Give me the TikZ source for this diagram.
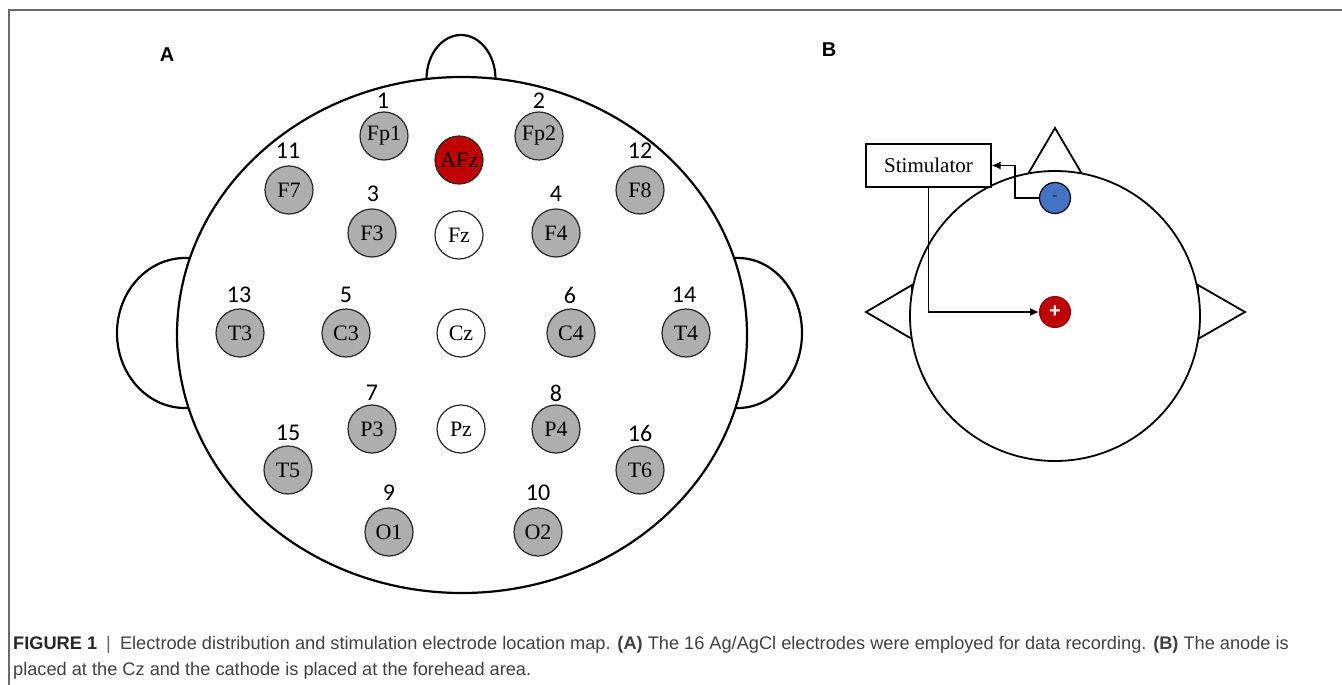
\documentclass[tikz,border=0pt]{standalone}
\usepackage{fontspec}
\setmainfont{Liberation Serif}
\newfontfamily\numfont{Carlito}
\newfontfamily\sansfam{Liberation Sans}
\usetikzlibrary{arrows.meta}
\definecolor{elgray}{HTML}{AEAEAE}
\definecolor{afzred}{HTML}{C00000}
\definecolor{cathblue}{HTML}{4472C4}
\definecolor{framegray}{HTML}{6A6A6A}
\definecolor{captext}{HTML}{404040}
\begin{document}
\begin{tikzpicture}[x=1pt,y=-1pt,
  elec/.style={circle, draw=black!85, line width=1.2pt, minimum size=48pt, inner sep=0pt, font=\fontsize{22}{22}\selectfont},
  grayel/.style={elec, fill=elgray},
  whiteel/.style={elec, fill=white},
  redel/.style={elec, fill=afzred},
  num/.style={inner sep=0pt, font=\numfont\fontsize{24}{24}\selectfont},
  headline/.style={line width=2.2pt},
  bline/.style={line width=1.8pt},
  wire/.style={line width=1.4pt},
  panel/.style={inner sep=0pt, font=\sansfam\bfseries\fontsize{20}{20}\selectfont},
  capline/.style={anchor=west, inner sep=0pt, text=captext, font=\sansfam\fontsize{18.2}{20}\selectfont}]
\useasboundingbox (0,0) rectangle (1342,685);
% frame
\draw[framegray, line width=1.5pt] (9,685) -- (9,10) -- (1342,10);
% panel labels
\node[panel] (labA) at (167,55) {A};
\node[panel] (labB) at (829,50) {B};
% ---------- head A ----------
\draw[headline, fill=white] (185,333) ellipse [x radius=68, y radius=75];
\draw[headline, fill=white] (738,333) ellipse [x radius=64, y radius=75];
\draw[headline, fill=white] (461,79) ellipse [x radius=34.5, y radius=44];
\draw[headline, fill=white] (462,335) ellipse [x radius=285, y radius=258];
% electrodes
\node[grayel] (Fp1) at (384,136) {Fp1};
\node[grayel] (Fp2) at (539,136) {Fp2};
\node[redel]  (AFz) at (459,160) {AFz};
\node[grayel] (F7) at (289,190) {F7};
\node[grayel] (F8) at (640,190) {F8};
\node[grayel] (F3) at (372,233) {F3};
\node[whiteel] (Fz) at (459,235) {Fz};
\node[grayel] (F4) at (556,233) {F4};
\node[grayel] (T3) at (240,333) {T3};
\node[grayel] (C3) at (346,333) {C3};
\node[whiteel] (Cz) at (461,333) {Cz};
\node[grayel] (C4) at (571,333) {C4};
\node[grayel] (T4) at (686,333) {T4};
\node[grayel] (P3) at (372,429) {P3};
\node[whiteel] (Pz) at (461,429) {Pz};
\node[grayel] (P4) at (556,429) {P4};
\node[grayel] (T5) at (288,470) {T5};
\node[grayel] (T6) at (640,470) {T6};
\node[grayel] (O1) at (389,532) {O1};
\node[grayel] (O2) at (538,532) {O2};
% numbers
\node[num] (n1) at (383,101) {1};
\node[num] (n2) at (539,101) {2};
\node[num] (n11) at (288,151) {11};
\node[num] (n12) at (640,151) {12};
\node[num] (n3) at (373,194) {3};
\node[num] (n4) at (556,194) {4};
\node[num] (n13) at (239,295) {13};
\node[num] (n5) at (346,295) {5};
\node[num] (n6) at (570,295) {6};
\node[num] (n14) at (684,295) {14};
\node[num] (n7) at (372,393) {7};
\node[num] (n8) at (556,393) {8};
\node[num] (n15) at (288,433) {15};
\node[num] (n16) at (640,433) {16};
\node[num] (n9) at (389,493) {9};
\node[num] (n10) at (538,493) {10};
% ---------- head B ----------
\draw[bline, fill=white] (1028,174) -- (1055,128) -- (1082,174) -- cycle;
\draw[bline, fill=white] (912,285) -- (866,312) -- (912,339) -- cycle;
\draw[bline, fill=white] (1198,285) -- (1245,312) -- (1198,339) -- cycle;
\draw[bline, fill=white] (1055,316) circle [radius=145];
\node[draw, line width=1.2pt, fill=white, minimum width=125pt, minimum height=43pt, inner sep=0pt, font=\fontsize{21}{21}\selectfont] (stim) at (928.5,165.5) {Stimulator};
\node[circle, draw=black, line width=1.2pt, fill=cathblue, minimum size=31pt, inner sep=0pt, font=\sansfam\bfseries\fontsize{16}{16}\selectfont, text=black!75] (cath) at (1055,198) {-};
\node[circle, draw=afzred!70!black, line width=1pt, fill=afzred, minimum size=31pt, inner sep=0pt, font=\sansfam\bfseries\fontsize{20}{20}\selectfont, text=white] (anode) at (1055,312) {+};
\coordinate (kc) at (1015,198);
\draw[wire, -{Latex[length=9pt,width=8pt]}] (cath.west) -- (kc) |- (stim.east);
\draw[wire, -{Latex[length=9pt,width=8pt]}] (stim.south) |- (anode.west);
% ---------- caption ----------
\node[capline] (cap1) at (13,645) {{\color{black!85}\bfseries FIGURE 1}\enspace{\color{black!60}|}\enspace Electrode distribution and stimulation electrode location map. {\bfseries (A)} The 16 Ag/AgCl electrodes were employed for data recording. {\bfseries (B)} The anode is};
\node[capline] (cap2) at (13,671) {placed at the Cz and the cathode is placed at the forehead area.};
\end{tikzpicture}
\end{document}
